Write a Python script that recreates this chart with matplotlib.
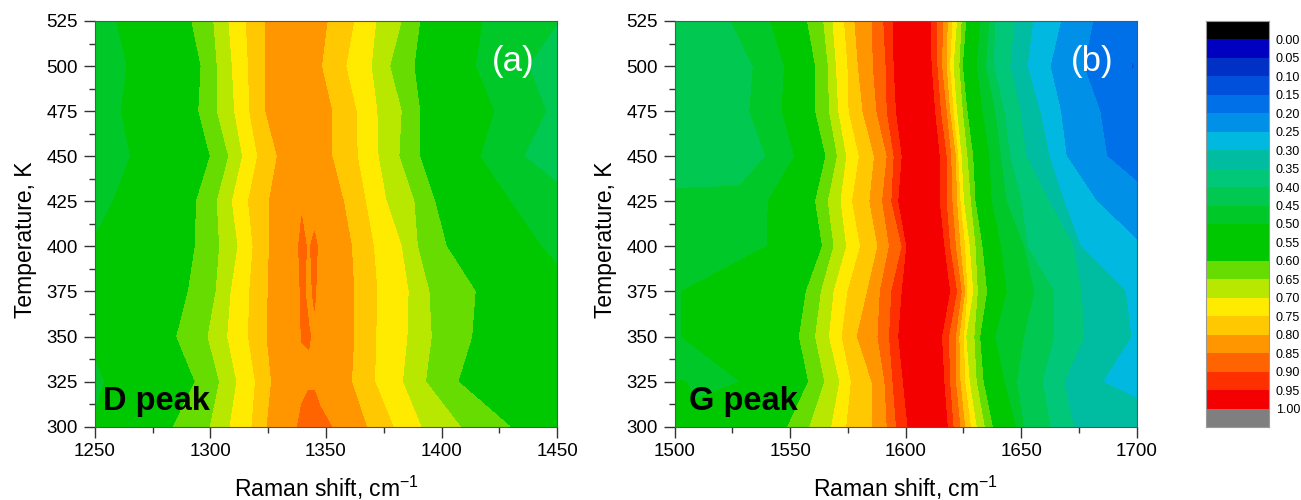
import matplotlib
matplotlib.use('Agg')
import matplotlib.pyplot as plt
from matplotlib.colors import ListedColormap, BoundaryNorm
from matplotlib.ticker import MultipleLocator
import numpy as np

plt.rcParams['font.family'] = ['Liberation Sans', 'DejaVu Sans']
plt.rcParams['mathtext.default'] = 'regular'

temps = [525, 500, 475, 450, 425, 400, 375, 350, 325, 300]

# colour scale
levels = [round(0.05 * i, 2) for i in range(21)]
band_colors = ['#0000C0', '#0030C4', '#0050DC', '#0070E8', '#0090E8', '#00B8E0',
               '#00BCA0', '#00C878', '#00C850', '#00C828', '#00C800', '#00C800',
               '#66DC00', '#B8E800', '#FFEB00', '#FFC800', '#FF9600', '#FF6400',
               '#FF3000', '#F50000']
under_color = '#000000'
over_color = '#7F7F7F'
level_labels = ['%.2f' % v for v in levels]

# D peak: Raman shift where each row crosses a given intensity, left side
d_far_left = [1200] * 10
d_left_50 = [1259.5, 1264, 1261.5, 1265.5, 1258, 1248, 1246.5, 1246.5, 1254.5, 1248]
d_left_60 = [1292, 1296, 1295, 1300, 1294, 1293.5, 1290.5, 1285.5, 1293.5, 1284]
d_left_65 = [1301.5, 1303, 1303, 1308, 1303, 1304, 1302.5, 1299, 1304, 1300]
d_left_70 = [1308, 1309.5, 1310.5, 1314, 1309.5, 1312, 1309, 1307.5, 1311.5, 1308.5]
d_left_75 = [1315.5, 1316.5, 1317, 1320.5, 1316.5, 1318.5, 1317, 1316.5, 1319.5, 1318]
d_left_80 = [1324, 1324, 1324, 1329, 1325.5, 1325.5, 1325, 1324.5, 1326.5, 1324.5]
# D peak: top of the band, fixed shifts with the intensity read there
d_top_shift = [1337.5, 1339.5, 1342.5, 1345, 1347.5]
d_top_1 = [0.83, 0.83, 0.83, 0.83, 0.83, 0.845, 0.84, 0.835, 0.83, 0.849]
d_top_2 = [0.83, 0.83, 0.83, 0.83, 0.845, 0.86, 0.855, 0.852, 0.835, 0.865]
d_top_3 = [0.83, 0.83, 0.83, 0.83, 0.83, 0.845, 0.845, 0.852, 0.845, 0.87]
d_top_4 = [0.83, 0.83, 0.83, 0.83, 0.83, 0.86, 0.853, 0.846, 0.845, 0.87]
d_top_5 = [0.82, 0.82, 0.82, 0.82, 0.82, 0.84, 0.84, 0.83, 0.83, 0.866]
# D peak: right side
d_right_80 = [1350.5, 1348, 1352.5, 1352.5, 1357.5, 1361, 1362, 1362, 1361, 1367.5]
d_right_75 = [1362, 1358.5, 1363, 1363.5, 1367, 1370.5, 1372, 1371.5, 1371, 1379]
d_right_70 = [1371.5, 1369.5, 1372, 1372.5, 1376, 1382.5, 1385.5, 1385, 1383, 1391]
d_right_65 = [1382.5, 1377.5, 1382.5, 1381.5, 1388, 1389.5, 1394.5, 1395.5, 1393, 1408]
d_right_60 = [1390.5, 1388, 1390.5, 1390.5, 1397, 1402, 1414.5, 1413, 1407, 1429.5]
d_right_50 = [1417.5, 1414.5, 1422.5, 1416.5, 1429.5, 1443, 1460, 1467, 1467, 1467]
d_right_45 = [1450.5, 1437.5, 1445, 1435.5, 1460, 1468.5, 1475, 1480, 1480, 1480]
d_far_right = [1520] * 10

# G peak: left part
g_far_left = [1480] * 10
g_far_left_val = [0.42, 0.42, 0.42, 0.42, 0.46, 0.47, 0.47, 0.47, 0.505, 0.53]
g_low_0 = [1522.5, 1528, 1528, 1528, 1528, 1528, 1488, 1488, 1488, 1488]
g_low_0_val = [0.43, 0.43, 0.43, 0.43, 0.46, 0.475, 0.475, 0.475, 0.505, 0.53]
g_low_1 = [1524.5, 1534, 1532.5, 1539.5, 1534, 1534, 1491, 1491, 1505, 1491]
g_low_1_val = [0.45, 0.45, 0.45, 0.45, 0.47, 0.48, 0.48, 0.48, 0.50, 0.53]
g_low_2 = [1532.5, 1541.5, 1540, 1545.5, 1537, 1537, 1496.5, 1496.5, 1516.5, 1496.5]
g_low_2_val = [0.475, 0.475, 0.475, 0.475, 0.49, 0.49, 0.49, 0.49, 0.48, 0.53]
g_low_3 = [1541.5, 1547.5, 1546.5, 1552, 1540.5, 1540, 1503, 1503, 1528.5, 1503]
g_low_3_val = [0.50, 0.50, 0.50, 0.50, 0.50, 0.50, 0.50, 0.50, 0.50, 0.53]
g_left_60 = [1557.5, 1561, 1561, 1565.5, 1561, 1564, 1557, 1554, 1558, 1549]
g_left_65 = [1564.5, 1566.5, 1567, 1570.5, 1566.5, 1569, 1563.5, 1561, 1565, 1558.5]
g_left_70 = [1568.5, 1570, 1571, 1574.5, 1572, 1574.5, 1569, 1567, 1571.5, 1568]
g_left_75 = [1573.5, 1575, 1575.5, 1580, 1577, 1580.5, 1575, 1572.5, 1576.5, 1574.5]
g_left_80 = [1578, 1579.5, 1581.5, 1586.5, 1584.5, 1588, 1583.5, 1579, 1585.5, 1585.5]
g_left_85 = [1585.5, 1586, 1587.5, 1592, 1590, 1593, 1589, 1588, 1591, 1592]
g_left_90 = [1590.5, 1591.5, 1592, 1595, 1594, 1598.5, 1594, 1593, 1594.5, 1596]
g_left_95 = [1594.5, 1595, 1596, 1598.5, 1597, 1600.5, 1598.5, 1597, 1599, 1601]
g_top = [1606] * 10
# G peak: right part
g_right_95 = [1610.5, 1611, 1612.5, 1614.5, 1614.5, 1616.5, 1619, 1615.5, 1616.5, 1618]
g_right_90 = [1613.5, 1613.5, 1615, 1617.5, 1617.5, 1619, 1622, 1618.5, 1619, 1620.5]
g_right_85 = [1616, 1615.5, 1617.5, 1619.5, 1620, 1621.5, 1624, 1621.5, 1621.5, 1623.5]
g_right_80 = [1618, 1617.5, 1619, 1621.5, 1622, 1623.5, 1625.5, 1623, 1623.5, 1625.5]
g_right_75 = [1620, 1619, 1620.5, 1622.5, 1623.5, 1625.5, 1626.5, 1625, 1625.5, 1628]
g_right_70 = [1622, 1620.5, 1622, 1624, 1625, 1627.5, 1629, 1626, 1627.5, 1630.5]
g_right_65 = [1624, 1623, 1624.5, 1626.5, 1628, 1630, 1631, 1629.5, 1630.5, 1634]
g_right_60 = [1626, 1624.5, 1626.5, 1629, 1630, 1633, 1635, 1632, 1633.5, 1637.5]
g_right_50 = [1632, 1630.5, 1633, 1636, 1637, 1641, 1643.5, 1638.5, 1642.5, 1647.5]
g_right_45 = [1636, 1634.5, 1638.5, 1641, 1643.5, 1651, 1655.5, 1651, 1648, 1651]
g_right_40 = [1638.5, 1638, 1642.5, 1645, 1650, 1652.5, 1664, 1664, 1659, 1662.5]
g_right_35 = [1647, 1645, 1649.5, 1652, 1662, 1672.5, 1676, 1677, 1668.5, 1672.5]
g_right_30 = [1655, 1652.5, 1658, 1662, 1668.5, 1675.5, 1695, 1697.5, 1685, 1724.5]
g_right_25 = [1667, 1662.5, 1667, 1669.5, 1682.5, 1703, 1724.5, 1739, 1739, 1739]
g_right_20 = [1681, 1677, 1684, 1687, 1710, 1731.5, 1746, 1753.5, 1753.5, 1753.5]
# small spot near the right edge at 500 K
g_spot_1 = [1697, 1697, 1697, 1697, 1760, 1760, 1760, 1760, 1760, 1760]
g_spot_2 = [1698.3, 1698.3, 1698.3, 1698.3, 1761, 1761, 1761, 1761, 1761, 1761]
g_spot_3 = [1699.6, 1699.6, 1699.6, 1699.6, 1762, 1762, 1762, 1762, 1762, 1762]
g_spot_1_val = [0.16, 0.152, 0.16, 0.16, 0.16, 0.16, 0.16, 0.16, 0.16, 0.16]
g_spot_2_val = [0.16, 0.148, 0.16, 0.16, 0.16, 0.16, 0.16, 0.16, 0.16, 0.16]
g_far_right = [1770] * 10


def const(v):
    return [v] * 10


d_cols = [
    (d_far_left, const(0.45)), (d_left_50, const(0.50)), (d_left_60, const(0.60)),
    (d_left_65, const(0.65)), (d_left_70, const(0.70)), (d_left_75, const(0.75)),
    (d_left_80, const(0.80)),
    (const(d_top_shift[0]), d_top_1), (const(d_top_shift[1]), d_top_2),
    (const(d_top_shift[2]), d_top_3), (const(d_top_shift[3]), d_top_4),
    (const(d_top_shift[4]), d_top_5),
    (d_right_80, const(0.80)), (d_right_75, const(0.75)), (d_right_70, const(0.70)),
    (d_right_65, const(0.65)), (d_right_60, const(0.60)), (d_right_50, const(0.50)),
    (d_right_45, const(0.45)), (d_far_right, const(0.43)),
]

g_cols = [
    (g_far_left, g_far_left_val), (g_low_0, g_low_0_val), (g_low_1, g_low_1_val),
    (g_low_2, g_low_2_val),
    (g_low_3, g_low_3_val), (g_left_60, const(0.60)), (g_left_65, const(0.65)),
    (g_left_70, const(0.70)), (g_left_75, const(0.75)), (g_left_80, const(0.80)),
    (g_left_85, const(0.85)), (g_left_90, const(0.90)), (g_left_95, const(0.95)),
    (g_top, const(0.98)),
    (g_right_95, const(0.95)), (g_right_90, const(0.90)), (g_right_85, const(0.85)),
    (g_right_80, const(0.80)), (g_right_75, const(0.75)), (g_right_70, const(0.70)),
    (g_right_65, const(0.65)), (g_right_60, const(0.60)), (g_right_50, const(0.50)),
    (g_right_45, const(0.45)), (g_right_40, const(0.40)), (g_right_35, const(0.35)),
    (g_right_30, const(0.30)), (g_right_25, const(0.25)), (g_right_20, const(0.20)),
    (g_spot_1, g_spot_1_val), (g_spot_2, g_spot_2_val), (g_spot_3, g_spot_1_val),
    (g_far_right, const(0.16)),
]

cmap = ListedColormap(band_colors)
cmap.set_under(under_color)
cmap.set_over(over_color)
norm = BoundaryNorm(levels, cmap.N)

W, H = 1301, 500
fig = plt.figure(figsize=(W / 100, H / 100), dpi=100)


def make_axes(x0, x1, y0, y1):
    return fig.add_axes([x0 / W, 1 - y1 / H, (x1 - x0) / W, (y1 - y0) / H])


def panel(ax, cols, xlim, xstep, letter, name, name_x):
    X = np.array([c[0] for c in cols]).T
    Z = np.array([c[1] for c in cols]).T
    Y = np.array([temps] * len(cols)).T
    ax.contourf(X, Y, Z, levels=levels, cmap=cmap, norm=norm, extend='both')
    ax.set_xlim(xlim)
    ax.set_ylim(300, 525)
    ax.xaxis.set_major_locator(MultipleLocator(xstep))
    ax.xaxis.set_minor_locator(MultipleLocator(xstep / 2))
    ax.yaxis.set_major_locator(MultipleLocator(25))
    ax.yaxis.set_minor_locator(MultipleLocator(12.5))
    ax.tick_params(which='major', length=8, width=1, labelsize=13.5, color='#333333', pad=4)
    ax.tick_params(which='minor', length=4, width=1, color='#333333')
    ax.set_xlabel('Raman shift, cm$^{-1}$', fontsize=16.5, labelpad=10)
    ax.set_ylabel('Temperature, K', fontsize=16.5, labelpad=7, y=0.46)
    for s in ax.spines.values():
        s.set_linewidth(0.8)
        s.set_color('#555555')
    ax.text(0.904, 0.90, letter, transform=ax.transAxes, color='white', fontsize=25,
            ha='center', va='center')
    ax.text(name_x, 0.062, name, transform=ax.transAxes, color='black', fontsize=23.5,
            fontweight='bold', ha='left', va='center')


ax1 = make_axes(94.7, 557.3, 21, 426.7)
panel(ax1, d_cols, (1250, 1450), 50, '(a)', 'D peak', 0.018)

ax2 = make_axes(674.7, 1136.7, 21, 426.7)
panel(ax2, g_cols, (1500, 1700), 50, '(b)', 'G peak', 0.03)

# colour bar on its own axes, 0 at the top
cax = make_axes(1205.7, 1269, 21, 427)
edges = [-0.05] + levels + [1.05]
all_colors = [under_color] + band_colors + [over_color]
for i, c in enumerate(all_colors):
    cax.axhspan(edges[i], edges[i + 1], color=c, lw=0)
cax.set_xlim(0, 1)
cax.set_ylim(1.05, -0.05)
cax.set_xticks([])
cax.yaxis.tick_right()
cax.set_yticks(levels)
cax.set_yticklabels(level_labels)
cax.tick_params(axis='y', length=0, labelsize=9, pad=5)
for s in cax.spines.values():
    s.set_linewidth(0.8)
    s.set_color('#999999')

fig.savefig('out.png', dpi=100)
